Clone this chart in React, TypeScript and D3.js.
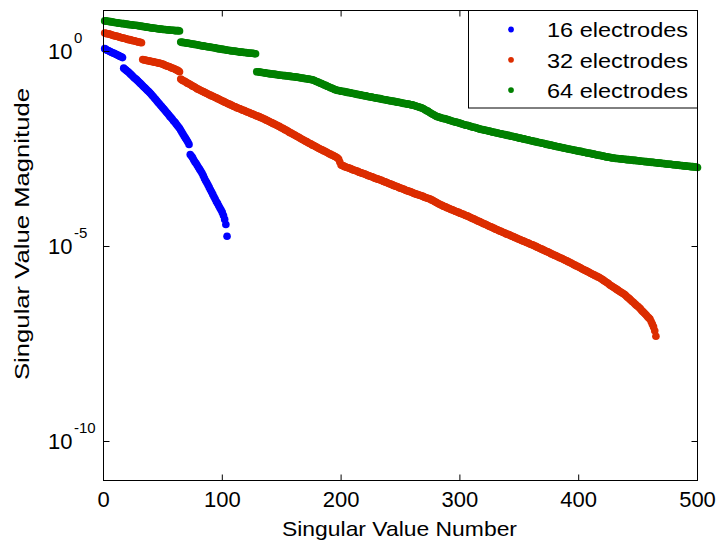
import React from 'react';
import * as d3 from 'd3';

// x axis ticks (singular value number) and y axis decade ticks (exponents of 10)
const xTicks = [0, 100, 200, 300, 400, 500];
const yTickExponents = [0, -5, -10];
const seriesNames = ['16 electrodes', '32 electrodes', '64 electrodes'];
const seriesColors = ['#0000ff', '#dc2d00', '#008000'];

// log10 of singular value magnitude, index i -> singular value number i+1
const sv16Log10 = [
  0.05, 0.03, 0.01, 0.0, -0.02, -0.03, -0.05, -0.06, -0.07, -0.09,
  -0.1, -0.12, -0.13, -0.15, -0.16, -0.18, -0.45, -0.48, -0.5, -0.53,
  -0.55, -0.58, -0.61, -0.64, -0.67, -0.7, -0.72, -0.75, -0.78, -0.81,
  -0.84, -0.87, -0.9, -0.93, -0.96, -0.99, -1.02, -1.05, -1.08, -1.11,
  -1.15, -1.18, -1.22, -1.25, -1.29, -1.33, -1.36, -1.4, -1.43, -1.47,
  -1.5, -1.54, -1.58, -1.61, -1.65, -1.69, -1.72, -1.76, -1.8, -1.83,
  -1.87, -1.91, -1.95, -1.99, -2.04, -2.09, -2.14, -2.19, -2.24, -2.29,
  -2.34, -2.4, -2.66, -2.7, -2.74, -2.8, -2.85, -2.89, -2.94, -2.99,
  -3.04, -3.09, -3.14, -3.2, -3.27, -3.33, -3.38, -3.44, -3.5, -3.56,
  -3.62, -3.68, -3.74, -3.8, -3.86, -3.91, -3.97, -4.03, -4.08, -4.14,
  -4.22, -4.32, -4.45, -4.75,
];

const sv32Log10 = [
  0.45, 0.44, 0.43, 0.43, 0.42, 0.41, 0.4, 0.39, 0.38, 0.37,
  0.37, 0.36, 0.35, 0.34, 0.33, 0.32, 0.32, 0.31, 0.3, 0.29,
  0.28, 0.28, 0.27, 0.26, 0.25, 0.25, 0.24, 0.23, 0.22, 0.22, 0.21, 0.2,
  -0.23, -0.24, -0.24, -0.25, -0.26, -0.26, -0.27, -0.28,
  -0.28, -0.29, -0.3, -0.3, -0.31, -0.32, -0.32, -0.33,
  -0.34, -0.35, -0.36, -0.38, -0.39, -0.4, -0.41, -0.42,
  -0.44, -0.45, -0.46, -0.47, -0.49, -0.5, -0.52, -0.54,
  -0.73, -0.75, -0.77, -0.78, -0.8, -0.82, -0.84, -0.85,
  -0.87, -0.89, -0.91, -0.92, -0.94, -0.96, -0.98, -0.99, -1.01,
  -1.02, -1.04, -1.05, -1.07, -1.08, -1.1, -1.11, -1.13, -1.14,
  -1.16, -1.17, -1.18, -1.2, -1.21, -1.23, -1.24, -1.26, -1.27, -1.29,
  -1.3, -1.32, -1.33, -1.35, -1.36, -1.37, -1.39, -1.4, -1.42,
  -1.43, -1.44, -1.46, -1.47, -1.48, -1.49, -1.51, -1.52, -1.53, -1.54, -1.56,
  -1.57, -1.58, -1.59, -1.61, -1.62, -1.63, -1.64, -1.66, -1.67, -1.68, -1.69, -1.71, -1.72, -1.73,
  -1.75, -1.76, -1.78, -1.79, -1.81, -1.82, -1.84, -1.85, -1.87, -1.88, -1.9, -1.91, -1.93, -1.94, -1.96,
  -1.98, -1.99, -2.01, -2.03, -2.04, -2.06, -2.08, -2.1, -2.11, -2.13, -2.15,
  -2.16, -2.18, -2.2, -2.21, -2.23, -2.25, -2.27, -2.28, -2.3, -2.32, -2.33, -2.35, -2.37, -2.38, -2.4, -2.42,
  -2.43, -2.45, -2.46, -2.48, -2.5, -2.51, -2.53, -2.54, -2.56, -2.57, -2.59,
  -2.6, -2.62, -2.64, -2.65, -2.67, -2.68, -2.7, -2.71, -2.73, -2.75,
  -2.78, -2.86, -2.93,
  -2.94, -2.95, -2.97, -2.98, -2.99, -3.0, -3.01, -3.02, -3.04, -3.05,
  -3.06, -3.07, -3.08, -3.09, -3.11, -3.12, -3.13, -3.14, -3.15, -3.16,
  -3.17, -3.19, -3.2, -3.21, -3.22, -3.23, -3.24, -3.26, -3.27, -3.28, -3.29, -3.3, -3.31,
  -3.32, -3.34, -3.35, -3.36, -3.37, -3.38, -3.4, -3.41, -3.42, -3.43, -3.45, -3.46,
  -3.47, -3.48, -3.49, -3.51, -3.52, -3.53, -3.54, -3.55, -3.57, -3.58, -3.59, -3.6,
  -3.61, -3.62, -3.63, -3.65, -3.66, -3.67, -3.68, -3.69, -3.7, -3.71, -3.72, -3.73, -3.75, -3.76, -3.77, -3.78, -3.79, -3.8,
  -3.82, -3.83, -3.85, -3.87, -3.88, -3.9, -3.92, -3.93, -3.95, -3.96, -3.98,
  -3.99, -4.0, -4.02, -4.03, -4.04, -4.06, -4.07, -4.08, -4.09, -4.11,
  -4.12, -4.13, -4.14, -4.16, -4.17, -4.18, -4.19, -4.21, -4.22, -4.23,
  -4.24, -4.26, -4.27, -4.29, -4.3, -4.31, -4.33, -4.34, -4.36, -4.37, -4.38, -4.4, -4.41, -4.43,
  -4.44, -4.45, -4.47, -4.48, -4.5, -4.51, -4.52, -4.54, -4.55, -4.57, -4.58, -4.59, -4.61, -4.62,
  -4.63, -4.65, -4.66, -4.67, -4.69, -4.7, -4.71, -4.72, -4.74, -4.75, -4.76, -4.78, -4.79,
  -4.8, -4.82, -4.83, -4.84, -4.86, -4.87, -4.88, -4.89, -4.91, -4.92, -4.93, -4.95, -4.96, -4.97,
  -4.98, -5.0, -5.01, -5.03, -5.04, -5.06, -5.07, -5.08, -5.1, -5.11, -5.13, -5.14, -5.15, -5.17,
  -5.18, -5.2, -5.21, -5.23, -5.24, -5.25, -5.27, -5.28, -5.3, -5.31, -5.32, -5.34, -5.35, -5.37, -5.38,
  -5.4, -5.41, -5.43, -5.44, -5.46, -5.48, -5.49, -5.51, -5.52, -5.54, -5.55, -5.57, -5.59, -5.6,
  -5.62, -5.63, -5.65, -5.66, -5.68, -5.7, -5.71, -5.73, -5.74, -5.76, -5.77, -5.79, -5.8, -5.82,
  -5.84, -5.86, -5.88, -5.9, -5.92, -5.94, -5.96, -5.99, -6.01, -6.03, -6.05,
  -6.07, -6.09, -6.11, -6.13, -6.15, -6.17, -6.19, -6.21, -6.23, -6.25, -6.28,
  -6.31, -6.33, -6.36, -6.39, -6.42, -6.44, -6.47, -6.5, -6.53, -6.55, -6.58,
  -6.61, -6.65, -6.68, -6.71, -6.74, -6.77, -6.81, -6.84, -6.87,
  -6.93, -7.0, -7.07, -7.17, -7.31,
];

const sv64Log10 = [
  0.76, 0.76, 0.75, 0.75, 0.74, 0.74, 0.73, 0.73, 0.72, 0.72, 0.71, 0.71, 0.7, 0.7, 0.69, 0.69,
  0.69, 0.68, 0.68, 0.67, 0.67, 0.66, 0.66, 0.66, 0.65, 0.65, 0.65, 0.64, 0.64, 0.63, 0.63, 0.62,
  0.62, 0.61, 0.61, 0.6, 0.6, 0.59, 0.59, 0.58, 0.58, 0.57, 0.57, 0.57, 0.56, 0.56, 0.55, 0.55,
  0.55, 0.54, 0.54, 0.54, 0.53, 0.53, 0.53, 0.52, 0.52, 0.52, 0.52, 0.51, 0.51, 0.51, 0.51, 0.5,
  0.22, 0.21, 0.21, 0.2, 0.2, 0.19, 0.19, 0.18, 0.18, 0.17, 0.17, 0.16, 0.16, 0.15, 0.15, 0.14,
  0.13, 0.13, 0.12, 0.12, 0.11, 0.11, 0.1, 0.1, 0.09, 0.09, 0.08, 0.08, 0.07, 0.07, 0.06, 0.05,
  0.05, 0.04, 0.04, 0.03, 0.03, 0.02, 0.02, 0.01, 0.01, 0.0, 0.0, -0.01, -0.01, -0.01, -0.02, -0.02,
  -0.03, -0.03, -0.04, -0.04, -0.04, -0.05, -0.05, -0.05, -0.06, -0.06, -0.06, -0.07, -0.07, -0.07, -0.08, -0.08,
  -0.54, -0.54, -0.55, -0.55, -0.56, -0.56, -0.57, -0.57, -0.58, -0.58, -0.59, -0.59, -0.6, -0.6, -0.6, -0.61, -0.61, -0.62, -0.62, -0.63,
  -0.63, -0.63, -0.64, -0.64, -0.64, -0.65, -0.65, -0.65, -0.66, -0.66, -0.67, -0.67, -0.67, -0.68, -0.68, -0.69, -0.69,
  -0.7, -0.7, -0.71, -0.71, -0.72, -0.72, -0.73, -0.73, -0.74, -0.74, -0.75,
  -0.76, -0.77, -0.79, -0.8, -0.81, -0.83, -0.84, -0.85, -0.87, -0.88,
  -0.89, -0.91, -0.92, -0.93, -0.95, -0.96, -0.97, -0.99, -1.0, -1.01,
  -1.02, -1.02, -1.03, -1.04, -1.04, -1.05, -1.05, -1.06, -1.07, -1.07, -1.08, -1.08, -1.09, -1.1,
  -1.1, -1.11, -1.12, -1.12, -1.13, -1.13, -1.14, -1.15, -1.15, -1.16, -1.16, -1.17, -1.18, -1.18,
  -1.19, -1.19, -1.2, -1.21, -1.21, -1.22, -1.22, -1.23, -1.23, -1.24, -1.25, -1.25,
  -1.26, -1.26, -1.27, -1.28, -1.28, -1.29, -1.29, -1.3, -1.3, -1.31, -1.32, -1.32,
  -1.33, -1.33, -1.34, -1.35, -1.35, -1.36, -1.36, -1.37, -1.37, -1.38, -1.39, -1.39,
  -1.4, -1.41, -1.42, -1.43, -1.44, -1.45, -1.46, -1.47, -1.48, -1.5,
  -1.52, -1.54, -1.55, -1.57, -1.59, -1.61, -1.63, -1.64, -1.66, -1.68,
  -1.69, -1.7, -1.71, -1.72, -1.73, -1.74, -1.74, -1.75, -1.76, -1.77, -1.78,
  -1.79, -1.8, -1.81, -1.82, -1.83, -1.83, -1.84, -1.85, -1.86, -1.87, -1.88,
  -1.89, -1.9, -1.91, -1.91, -1.92, -1.93, -1.94, -1.95, -1.96, -1.96, -1.97, -1.98, -1.99, -2.0, -2.01,
  -2.02, -2.02, -2.03, -2.04, -2.04, -2.05, -2.06, -2.06, -2.07, -2.08, -2.09, -2.09, -2.1, -2.11,
  -2.11, -2.12, -2.13, -2.13, -2.14, -2.15, -2.15, -2.16, -2.17, -2.17, -2.18, -2.19, -2.19, -2.2,
  -2.21, -2.21, -2.22, -2.23, -2.24, -2.24, -2.25, -2.26, -2.26, -2.27, -2.28, -2.28, -2.29, -2.3,
  -2.31, -2.31, -2.32, -2.33, -2.33, -2.34, -2.35, -2.35, -2.36, -2.37, -2.37, -2.38, -2.39, -2.4,
  -2.4, -2.41, -2.42, -2.42, -2.43, -2.44, -2.44, -2.45, -2.46, -2.46, -2.47, -2.48, -2.48, -2.49,
  -2.5, -2.5, -2.51, -2.52, -2.52, -2.53, -2.53, -2.54, -2.55, -2.55, -2.56, -2.57, -2.57, -2.58,
  -2.58, -2.59, -2.6, -2.6, -2.61, -2.62, -2.62, -2.63, -2.63, -2.64, -2.65, -2.65, -2.66, -2.67,
  -2.67, -2.68, -2.68, -2.69, -2.7, -2.7, -2.71, -2.72, -2.72, -2.73, -2.73, -2.74, -2.75, -2.75,
  -2.75, -2.76, -2.76, -2.76, -2.77, -2.77, -2.77, -2.78, -2.78, -2.78, -2.79, -2.79, -2.79, -2.8,
  -2.8, -2.8, -2.81, -2.81, -2.81, -2.82, -2.82, -2.82, -2.83, -2.83, -2.83, -2.84, -2.84, -2.84,
  -2.85, -2.85, -2.85, -2.86, -2.86, -2.86, -2.87, -2.87, -2.87, -2.88, -2.88, -2.88, -2.89, -2.89,
  -2.89, -2.9, -2.9, -2.9, -2.91, -2.91, -2.91, -2.92, -2.92, -2.92,
  -2.93, -2.93, -2.93, -2.94, -2.94, -2.94, -2.95, -2.95, -2.95, -2.96,
  -2.96, -2.96, -2.97, -2.97, -2.97, -2.98, -2.98, -2.98, -2.99,
];

const seriesData = [sv16Log10, sv32Log10, sv64Log10];

const FONT = '"Liberation Sans", Arial, Helvetica, sans-serif';

export default function App() {
  const W = 720;
  const H = 542;
  const L = 103.5;
  const R = 697.5;
  const T = 10.5;
  const B = 480.5;

  const x = d3.scaleLinear().domain([0, 500]).range([L, R]);
  const y = d3.scaleLog().domain([1e-11, 1e1]).range([B, 11.5]);

  const tickLen = 6;

  return (
    <svg
      width={W}
      height={H}
      viewBox={`0 0 ${W} ${H}`}
      style={{ position: 'absolute', left: 0, top: 0, background: '#fff' }}
      fontFamily={FONT}
    >
      <rect x={0} y={0} width={W} height={H} fill="#fff" />

      {/* data */}
      {seriesData.map((arr, si) => (
        <g key={si} fill={seriesColors[si]}>
          {arr.map((v, i) => (
            <circle key={i} cx={x(i + 1)} cy={y(Math.pow(10, v))} r={3.8} />
          ))}
        </g>
      ))}

      {/* axes box */}
      <rect x={L} y={T} width={R - L} height={B - T} fill="none" stroke="#000" strokeWidth={1} />

      {/* x ticks */}
      {xTicks.map((t) => (
        <g key={t}>
          <line x1={x(t)} x2={x(t)} y1={B} y2={B - tickLen} stroke="#000" />
          <line x1={x(t)} x2={x(t)} y1={T} y2={T + tickLen} stroke="#000" />
          <text x={x(t)} y={507} textAnchor="middle" fontSize={22} fill="#000">
            {t}
          </text>
        </g>
      ))}

      {/* y ticks */}
      {yTickExponents.map((e) => {
        const yy = Math.round(y(Math.pow(10, e))) + 0.5;
        return (
          <g key={e}>
            <line x1={L} x2={L + tickLen} y1={yy} y2={yy} stroke="#000" />
            <line x1={R} x2={R - tickLen} y1={yy} y2={yy} stroke="#000" />
            <text x={48} y={yy + 7.5} fontSize={22} fill="#000">
              10
              <tspan dx={1.5} dy={-16} fontSize={15}>
                {String(e)}
              </tspan>
            </text>
          </g>
        );
      })}

      {/* axis labels */}
      <text
        x={399.5}
        y={536}
        textAnchor="middle"
        fontSize={21}
        textLength={235}
        lengthAdjust="spacingAndGlyphs"
        fill="#000"
      >
        Singular Value Number
      </text>
      <text
        transform="translate(28.5,234) rotate(-90)"
        x={0}
        y={0}
        textAnchor="middle"
        fontSize={21}
        textLength={292}
        lengthAdjust="spacingAndGlyphs"
        fill="#000"
      >
        Singular Value Magnitude
      </text>

      {/* legend */}
      <rect x={468.5} y={10.5} width={229} height={97.5} fill="#fff" stroke="#000" strokeWidth={1} />
      {seriesNames.map((name, i) => (
        <g key={name}>
          <circle cx={511} cy={29.5 + i * 30.3} r={2.9} fill={seriesColors[i]} />
          <text
            x={547}
            y={37.3 + i * 30.5}
            fontSize={21}
            textLength={141}
            lengthAdjust="spacingAndGlyphs"
            fill="#000"
          >
            {name}
          </text>
        </g>
      ))}
    </svg>
  );
}
